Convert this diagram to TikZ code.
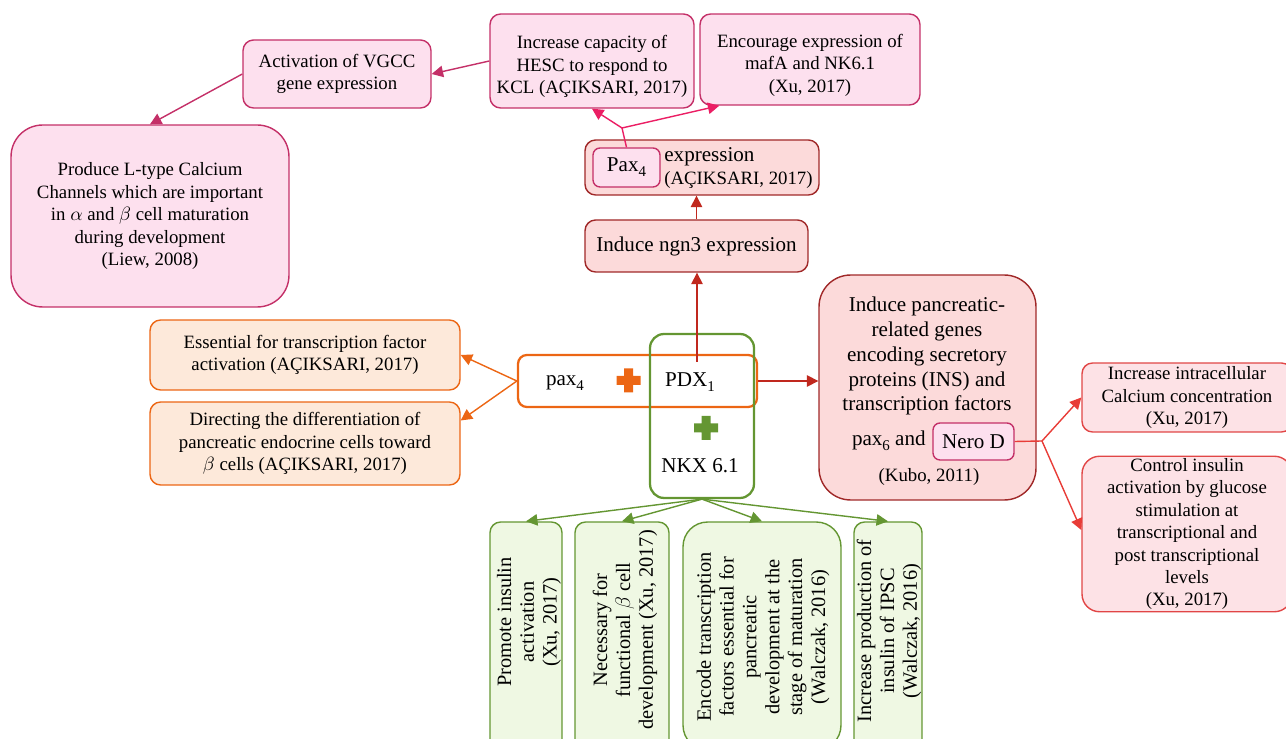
\documentclass[tikz,border=0pt]{standalone}
\usepackage{fontspec}
\setmainfont{Liberation Serif}
\usetikzlibrary{arrows.meta,calc}

\definecolor{crim}{RGB}{196,48,104}
\definecolor{pinkfill}{RGB}{253,224,238}
\definecolor{maroon}{RGB}{160,40,40}
\definecolor{rosefill}{RGB}{252,218,218}
\definecolor{redline}{RGB}{225,70,70}
\definecolor{redfill}{RGB}{253,226,230}
\definecolor{orng}{RGB}{236,102,20}
\definecolor{orngfill}{RGB}{253,233,218}
\definecolor{grn}{RGB}{100,150,50}
\definecolor{grnfill}{RGB}{239,248,227}
\definecolor{pinkarrow}{RGB}{235,30,100}
\definecolor{arrowred}{RGB}{192,40,30}
\definecolor{nerored}{RGB}{232,60,55}

\newcommand\lowsub[1]{\raisebox{-0.5ex}{\fontsize{8.5}{8.5}\selectfont #1}}

\tikzset{
  box/.style={draw, line width=0.8pt, rounded corners=6pt, align=center, inner sep=1pt},
  pinkbox/.style={box, draw=crim, fill=pinkfill},
  rosebox/.style={box, draw=maroon, fill=rosefill},
  redbox/.style={box, draw=redline, fill=redfill},
  orangebox/.style={box, draw=orng, fill=orngfill},
  greenbox/.style={box, draw=grn, fill=grnfill},
  bigtext/.style={font=\fontsize{12}{14.2}\selectfont},
  sidetext/.style={font=\fontsize{11.6}{13}\selectfont},
  arr/.style={-{Triangle[length=6.5pt,width=6.5pt]}, line width=0.8pt},
}

\begin{document}
\begin{tikzpicture}[x=0.02cm, y=-0.02cm, font=\fontsize{10.7}{12.8}\selectfont]

  \useasboundingbox (0,0) rectangle (1286,739);

  \node [pinkbox, minimum width=3.76cm, minimum height=1.36cm] (vgcc) at (337,74) {Activation of VGCC\\gene expression};
  \node [pinkbox, minimum width=4.08cm, minimum height=1.88cm] (hesc) at (592,61) {\rule{0pt}{14pt}Increase capacity of\\HESC to respond to\\KCL (AÇIKSARI, 2017)};
  \node [pinkbox, minimum width=4.4cm, minimum height=1.82cm] (mafa) at (810,59.5) {\rule{0pt}{14pt}Encourage expression of\\mafA and NK6.1\\(Xu, 2017)};
  \node [pinkbox, rounded corners=18pt, minimum width=5.56cm, minimum height=3.64cm] (ltype) at (150,216) {Produce L-type Calcium\\Channels which are important\\in $\alpha$ and $\beta$ cell maturation\\during development\\(Liew, 2008)};

  \node [rosebox, minimum width=4.68cm, minimum height=1.1cm] (pexp) at (702,167.5) {};
  \node [pinkbox, bigtext, rounded corners=4pt, minimum width=1.34cm, minimum height=0.78cm] (pax) at (626.5,167.5) {Pax\lowsub{4}};
  \node [anchor=west, align=left, inner sep=0pt] (pextext) at (664,168) {{\fontsize{12}{13}\selectfont expression}\\(AÇIKSARI, 2017)};
  \node [rosebox, bigtext, minimum width=4.46cm, minimum height=1.04cm] (ngn) at (696.5,246) {Induce ngn3 expression};

  \node [orangebox, minimum width=6.2cm, minimum height=1.4cm] (ess) at (305,355) {Essential for transcription factor\\activation (AÇIKSARI, 2017)};
  \node [orangebox, minimum width=6.2cm, minimum height=1.66cm] (dir) at (305,443.5) {Directing the differentiation of\\pancreatic endocrine cells toward\\$\beta$ cells (AÇIKSARI, 2017)};

  \node [draw=orng, line width=1.3pt, rounded corners=5pt, minimum width=4.78cm, minimum height=1.04cm] (core) at (637.5,381) {};
  \node [draw=grn, line width=1.3pt, rounded corners=8pt, minimum width=2.08cm, minimum height=3.28cm] (nkxbox) at (702,416) {};
  \node [bigtext] (pax4) at (565,383) {pax\lowsub{4}};
  \node [bigtext] (pdx) at (690,382) {PDX\lowsub{1}};
  \node [bigtext] (nkx) at (700,466) {NKX 6.1};
  \fill [orng] (616.5,376) rectangle (640.5,385) (624,368.5) rectangle (633,392.5);
  \fill [grn] (694,423.5) rectangle (718,432.5) (701.5,416) rectangle (710.5,440);
  \coordinate (pdxtop) at (697,362);

  \node [rosebox, rounded corners=18pt, minimum width=4.34cm, minimum height=4.5cm] (ind) at (927.5,387.5) {};
  \node [bigtext, align=center] (indtext) at (927,356) {Induce pancreatic-\\related genes\\encoding secretory\\proteins (INS) and\\transcription factors};
  \node [bigtext, anchor=east, inner sep=0pt] (pax6) at (926,441) {pax\lowsub{6} and};
  \node [pinkbox, bigtext, rounded corners=4pt, minimum width=1.62cm, minimum height=0.74cm] (nerod) at (973.5,441.5) {Nero D};
  \node (kubo) at (929,477) {(Kubo, 2011)};

  \node [redbox, minimum width=4.2cm, minimum height=1.38cm] (cal) at (1187,397.5) {Increase intracellular\\Calcium concentration\\(Xu, 2017)};
  \node [redbox, rounded corners=10pt, minimum width=4.2cm, minimum height=3.08cm] (ctrl) at (1187,534) {Control insulin\\activation by glucose\\stimulation at\\transcriptional and\\post transcriptional\\levels\\(Xu, 2017)};
  \coordinate (nj) at (1042,441);
  \coordinate (pj) at (622,128);

  \draw [arr, crim] (hesc.west) -- (vgcc.east);
  \draw [arr, crim] (vgcc.west) -- (ltype.north);
  \draw [line width=0.8pt, pinkarrow] (pax.north) -- (pj);
  \draw [arr, pinkarrow] (pj) -- (hesc.south);
  \draw [arr, pinkarrow] (pj) -- ($(mafa.south west)+(20,0)$);
  \draw [arr, arrowred] (ngn.north) -- (ngn.north |- pexp.south);
  \draw [arr, arrowred] (pdxtop) -- (pdxtop |- ngn.south);
  \draw [arr, arrowred] (core.east) -- (core.east -| ind.west);
  \draw [arr, orng] (core.west) -- (ess.east);
  \draw [arr, orng] (core.west) -- ($(dir.east)+(0,-23)$);
  \draw [line width=0.8pt, nerored] (nerod.east) -- (nj);
  \draw [arr, nerored] (nj) -- (cal.west);
  \draw [arr, nerored] (nj) -- ($(ctrl.west)+(0,-4)$);

  \foreach \x/\w/\r/\tx/\ty/\txt [count=\i] in {
    526/1.44/6/529/622/{Promote insulin\\activation\\(Xu, 2017)},
    622/1.88/6/625/630/{Necessary for\\functional $\beta$ cell\\development (Xu, 2017)},
    762/3.16/14/763/637/{Encode transcription\\factors essential for\\pancreatic\\development at the\\stage of maturation\\(Walczak, 2016)},
    888/1.36/6/889/631/{Increase production of\\insulin of IPSC\\(Walczak, 2016)}} {
    \node [greenbox, rounded corners=\r pt, minimum width=\w cm, minimum height=4.56cm] (b\i) at (\x,636) {};
    \node [sidetext, rotate=90, align=center] (t\i) at (\tx,\ty) {\txt};
    \draw [arr, grn] (nkxbox.south) -- (b\i.north);
  }

\end{tikzpicture}
\end{document}
